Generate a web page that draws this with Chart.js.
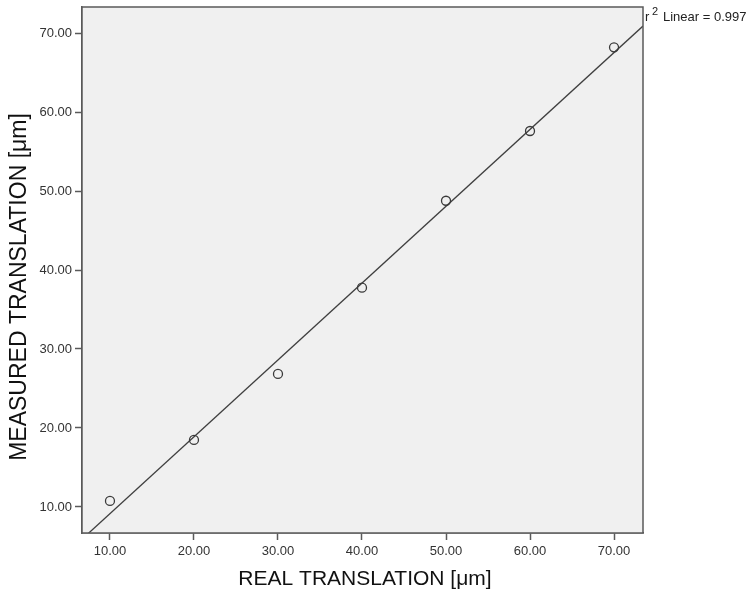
<!DOCTYPE html>
<html>
<head>
<meta charset="utf-8">
<script src="https://cdn.jsdelivr.net/npm/chart.js@4.4.1/dist/chart.umd.min.js"></script>
<style>
    html, body { margin: 0; padding: 0; background: #ffffff; }
    #wrap { width: 747px; height: 597px; position: relative; }
</style>
</head>
<body>
<div id="wrap"><canvas id="chart" width="747" height="597"></canvas></div>
<script>
    // Real vs measured translation (um).
    var realTranslation = [10, 20, 30, 40, 50, 60, 70];
    var measuredTranslation = [10.76, 18.48, 26.84, 37.76, 48.77, 57.6, 68.19];

    var xTicks = [10, 20, 30, 40, 50, 60, 70];
    var yTicks = [10, 20, 30, 40, 50, 60, 70];
    var xRange = [6.67, 73.45];
    var yRange = [6.7, 73.3];

    var fitLabel = 'Linear = 0.997';
    var xTitle = 'REAL TRANSLATION [\u03bcm]';
    var yTitle = 'MEASURED TRANSLATION [\u03bcm]';

    var fontFamily = '"Liberation Sans", Arial, sans-serif';
    var axisColor = '#5a5a5a';

    /**
     * Least squares fit of the data.
     */
    function linearFit(xs, ys) {
        var n = xs.length, mx = 0, my = 0, sxy = 0, sxx = 0;
        for (var i = 0; i < n; i++) { mx += xs[i]; my += ys[i]; }
        mx /= n; my /= n;
        for (var j = 0; j < n; j++) {
            sxy += (xs[j] - mx) * (ys[j] - my);
            sxx += (xs[j] - mx) * (xs[j] - mx);
        }
        var slope = sxy / sxx;
        return { slope: slope, intercept: my - slope * mx };
    }

    var fit = linearFit(realTranslation, measuredTranslation);
    var fitLine = xRange.map(function(x) {
        return { x: x, y: fit.slope * x + fit.intercept };
    });

    var points = realTranslation.map(function(x, i) {
        return { x: x, y: measuredTranslation[i] };
    });

    // Plot background, frame and texts outside the axes.
    var framePlugin = {
        id: 'frame',
        beforeDatasetsDraw: function(chart) {
            var a = chart.chartArea, ctx = chart.ctx;
            ctx.save();
            ctx.fillStyle = '#f0f0f0';
            ctx.fillRect(a.left, a.top, a.right - a.left, a.bottom - a.top);
            ctx.restore();
        },
        afterDraw: function(chart) {
            var a = chart.chartArea, ctx = chart.ctx;
            ctx.save();
            ctx.strokeStyle = axisColor;
            ctx.lineWidth = 1.5;
            ctx.strokeRect(a.left, a.top, a.right - a.left, a.bottom - a.top);

            ctx.fillStyle = '#222';
            ctx.textBaseline = 'alphabetic';
            ctx.font = '13px ' + fontFamily;
            ctx.textAlign = 'left';
            ctx.fillText('r', a.right + 2, 21);
            ctx.font = '11px ' + fontFamily;
            ctx.fillText('2', a.right + 9, 15);
            ctx.font = '13px ' + fontFamily;
            ctx.fillText(fitLabel, a.right + 20, 21);

            ctx.fillStyle = '#111';
            ctx.font = '21px ' + fontFamily;
            ctx.textAlign = 'center';
            ctx.fillText(xTitle, 365, 585);

            ctx.translate(26, 287);
            ctx.rotate(-Math.PI / 2);
            ctx.font = '23px ' + fontFamily;
            ctx.fillText(yTitle, 0, 0);
            ctx.restore();
        }
    };

    function fixedTicks(values) {
        return function(scale) {
            scale.ticks = values.map(function(v) { return { value: v }; });
        };
    }

    var ctx = document.getElementById('chart').getContext('2d');
    new Chart(ctx, {
        type: 'scatter',
        data: {
            datasets: [
                {
                    label: 'Observed',
                    data: points,
                    pointStyle: 'circle',
                    pointRadius: 4.5,
                    pointBorderWidth: 1.3,
                    pointBorderColor: '#3a3a3a',
                    pointBackgroundColor: 'rgba(0,0,0,0)'
                },
                {
                    label: 'Linear',
                    type: 'line',
                    data: fitLine,
                    borderColor: '#3f3f3f',
                    borderWidth: 1.3,
                    pointRadius: 0,
                    fill: false
                }
            ]
        },
        options: {
            responsive: false,
            animation: false,
            layout: {
                padding: { top: 7, right: 104, left: 0, bottom: 0 }
            },
            plugins: {
                legend: { display: false },
                tooltip: { enabled: false }
            },
            scales: {
                x: {
                    type: 'linear',
                    min: xRange[0],
                    max: xRange[1],
                    afterBuildTicks: fixedTicks(xTicks),
                    afterFit: function(scale) {
                        scale.height = 64;
                        scale.paddingLeft = 0;
                        scale.paddingRight = 0;
                    },
                    border: { display: true, color: axisColor, width: 1.5 },
                    grid: {
                        drawOnChartArea: false,
                        drawTicks: true,
                        tickLength: 7,
                        tickWidth: 1.5,
                        tickColor: axisColor
                    },
                    ticks: {
                        padding: 4,
                        color: '#333',
                        font: { family: fontFamily, size: 13 },
                        callback: function(v) { return Number(v).toFixed(2); }
                    }
                },
                y: {
                    type: 'linear',
                    min: yRange[0],
                    max: yRange[1],
                    afterBuildTicks: fixedTicks(yTicks),
                    afterFit: function(scale) {
                        scale.width = 82;
                        scale.paddingTop = 0;
                        scale.paddingBottom = 0;
                    },
                    border: { display: true, color: axisColor, width: 1.5 },
                    grid: {
                        drawOnChartArea: false,
                        drawTicks: true,
                        tickLength: 7,
                        tickWidth: 1.5,
                        tickColor: axisColor
                    },
                    ticks: {
                        padding: 3,
                        color: '#333',
                        font: { family: fontFamily, size: 13 },
                        callback: function(v) { return Number(v).toFixed(2); }
                    }
                }
            }
        },
        plugins: [framePlugin]
    });
</script>
</body>
</html>
